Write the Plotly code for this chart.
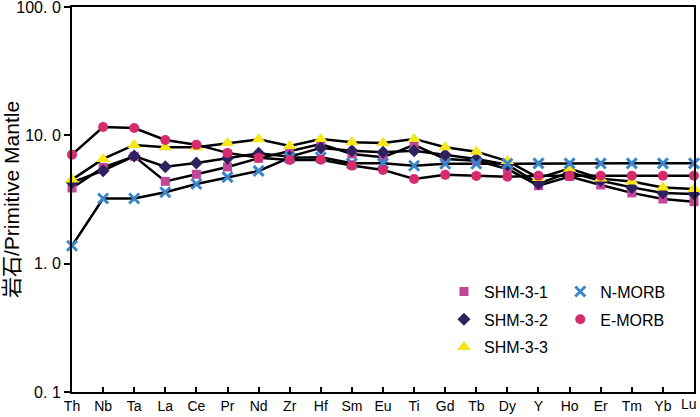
import plotly.graph_objects as go

categories = ["Th", "Nb", "Ta", "La", "Ce", "Pr", "Nd", "Zr", "Hf", "Sm", "Eu",
              "Ti", "Gd", "Tb", "Dy", "Y", "Ho", "Er", "Tm", "Yb", "Lu"]

shm31 = [3.89, 5.63, 6.86, 4.38, 4.97, 5.67, 6.62, 7.5, 8.57, 7.16, 6.74,
         8.42, 6.55, 6.35, 5.47, 4.05, 4.78, 4.1, 3.56, 3.19, 3.04]
shm32 = [4.3, 5.3, 6.9, 5.7, 6.1, 6.62, 7.24, 6.82, 7.98, 7.6, 7.37,
         7.6, 7.07, 6.55, 5.9, 4.2, 5.15, 4.43, 3.93, 3.56, 3.49]
shm33 = [4.52, 6.55, 8.42, 8.07, 8.07, 8.72, 9.31, 8.27, 9.38, 8.83, 8.72,
         9.38, 8.07, 7.46, 6.3, 4.66, 5.5, 4.6, 4.36, 3.93, 3.82]
nmorb = [1.38, 3.22, 3.22, 3.6, 4.18, 4.72, 5.28, 6.7, 6.74, 6.05, 6.05,
         5.8, 6.0, 6.0, 6.02, 6.05, 6.05, 6.05, 6.05, 6.05, 6.05]
emorb = [7.07, 11.6, 11.4, 9.2, 8.46, 7.3, 6.7, 6.43, 6.46, 5.81, 5.38,
         4.57, 4.92, 4.83, 4.76, 4.85, 4.85, 4.85, 4.85, 4.85, 4.85]

ytick_vals = [0.1, 1, 10, 100]
ytick_text = ["0. 1", "1. 0", "10. 0", "100. 0"]

series = [
    ("SHM-3-1", shm31, "square", "#C2479B", 9, "legend"),
    ("SHM-3-2", shm32, "diamond", "#2F2160", 10, "legend"),
    ("SHM-3-3", shm33, "triangle-up", "#F4E619", 12, "legend"),
    ("N-MORB", nmorb, "x-thin", "#3A86CC", 10, "legend2"),
    ("E-MORB", emorb, "circle", "#D62B6C", 10, "legend2"),
]

xs = list(range(len(categories)))
# last label is drawn as an annotation, right-aligned so it stays inside the page
xtick_text = categories[:-1] + [""]

fig = go.Figure()

for name, vals, sym, col, sz, lg in series:
    fig.add_trace(go.Scatter(x=xs, y=vals, mode="lines",
                             line=dict(color="black", width=2.5),
                             showlegend=False, cliponaxis=False, hoverinfo="skip"))

for name, vals, sym, col, sz, lg in series:
    if sym == "x-thin":
        mk = dict(symbol=sym, size=sz, color=col, line=dict(color=col, width=3))
    else:
        mk = dict(symbol=sym, size=sz, color=col, line=dict(width=0))
    fig.add_trace(go.Scatter(x=xs, y=vals, mode="markers", name=name,
                             marker=mk, legend=lg, legendgroup=name,
                             cliponaxis=False))

fig.add_annotation(x=xs[-1], xref="x", y=0, yref="paper", text=categories[-1],
                   showarrow=False, xanchor="right", yanchor="top",
                   xshift=5, yshift=-2, font=dict(size=14, color="black"))

fig.update_layout(
    width=700, height=417,
    margin=dict(l=72, r=6, t=7, b=25),
    paper_bgcolor="white", plot_bgcolor="white",
    font=dict(family="Liberation Sans, Arial, Noto Sans CJK SC", color="black"),
    legend=dict(x=0.598, y=0.305, xanchor="left", yanchor="top",
                font=dict(size=16), tracegroupgap=4, bgcolor="rgba(0,0,0,0)",
                traceorder="grouped"),
    legend2=dict(x=0.785, y=0.305, xanchor="left", yanchor="top",
                 font=dict(size=16), tracegroupgap=4, bgcolor="rgba(0,0,0,0)",
                 traceorder="grouped"),
)

fig.update_xaxes(range=[-0.0005, 20.0005], tickvals=xs, ticktext=xtick_text,
                 ticks="inside", ticklen=5, tickwidth=1.5, tickcolor="black",
                 showline=True, linewidth=2, linecolor="black", mirror=True,
                 showgrid=False, zeroline=False, tickfont=dict(size=14),
                 ticklabeloverflow="allow", automargin=False)
fig.update_yaxes(type="log", range=[-1.0002, 2.0002], tickvals=ytick_vals, ticktext=ytick_text,
                 ticks="outside", ticklen=6, tickwidth=1.5, tickcolor="black",
                 showline=True, linewidth=2, linecolor="black", mirror=True,
                 showgrid=False, zeroline=False, tickfont=dict(size=16),
                 ticklabeloverflow="allow", automargin=False,
                 title=dict(text="岩石/Primitive Mantle", font=dict(size=21), standoff=4))

fig.write_html("out.html", config={"displayModeBar": False},
               post_script="document.body.style.margin='0';document.body.style.overflow='hidden';")
